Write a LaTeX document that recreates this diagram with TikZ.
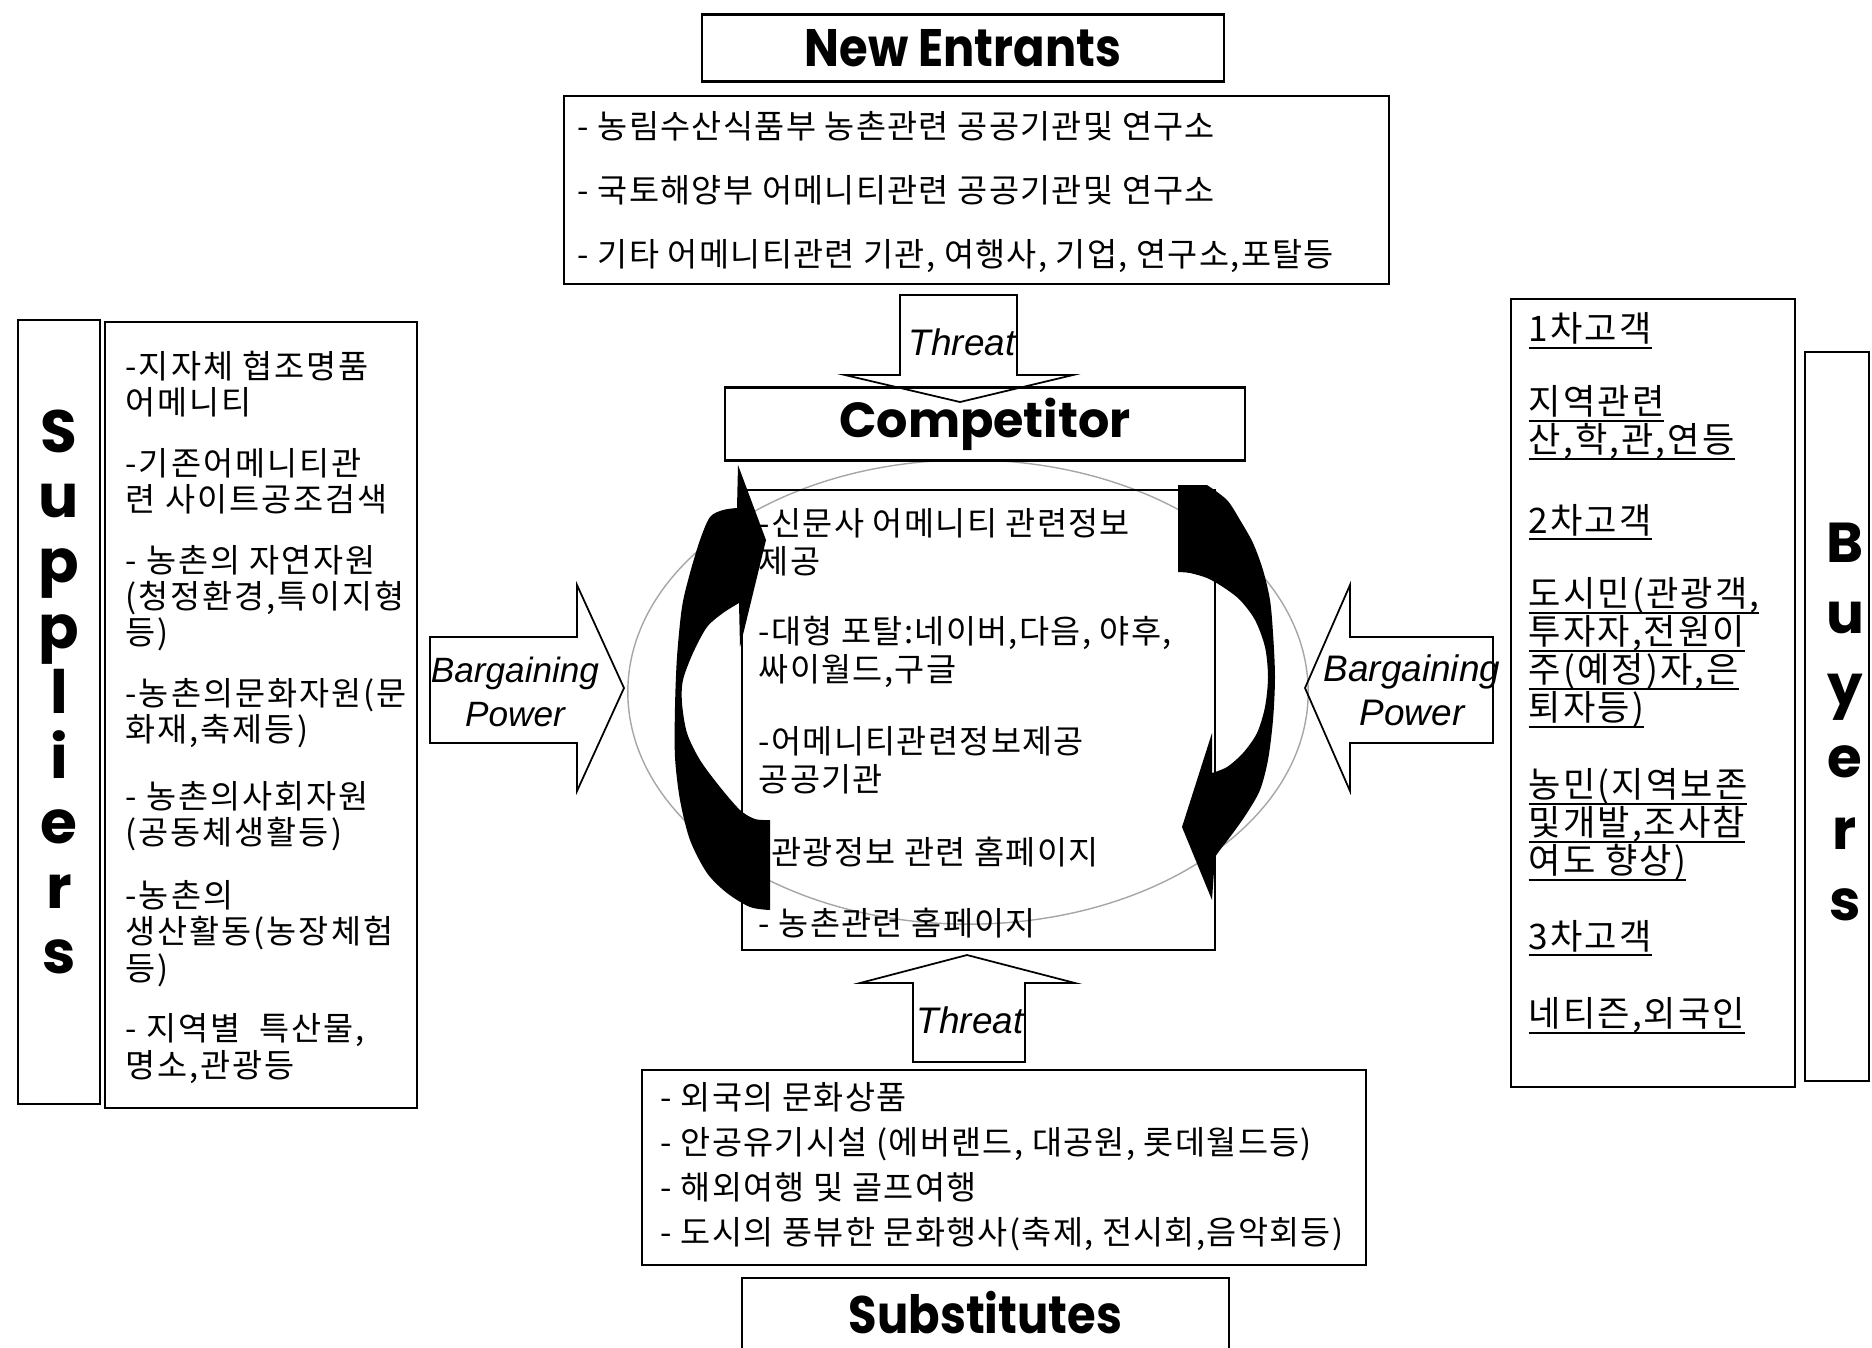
\documentclass[tikz,border=0pt]{standalone}
\usepackage{fontspec}
\usepackage{graphicx}
\newfontfamily\kor{Noto Sans CJK KR}[LetterSpace=4]
\newfontfamily\korwide{Noto Sans CJK KR}[LetterSpace=6]
\newfontfamily\gothic{Poppins}
\newfontfamily\arial{Liberation Sans}
\usepackage{tikz}
% underline set close under the letters
\newcommand\buyline[1]{\setbox0=\hbox{#1}\rlap{\rule[-2pt]{\wd0}{0.5pt}}\box0}
\tikzset{
	box/.style={draw, line width=0.6pt, inner sep=0pt},
	titlebox/.style={box, font=\gothic\bfseries\fontsize{15}{18}\selectfont},
	kor/.style={font=\kor\fontsize{9.3}{10.3}\selectfont, align=left, inner sep=0pt, anchor=north west},
	force/.style={font=\arial\itshape\fontsize{10.5}{12.5}\selectfont, align=center, inner sep=0pt},
	blockarrow/.style={draw, line width=0.5pt},
	letters/.style={font=\gothic\bfseries\fontsize{17}{18.5}\selectfont, align=center, inner sep=0pt},
}

\begin{document}
\begin{tikzpicture}[x=0.01cm, y=-0.01cm]
	\useasboundingbox (0,0) rectangle (1872,1347);
	
	% the circle round the competitors
	\draw[gray!70, line width=0.4pt] (968,692) ellipse [x radius=3.4cm, y radius=2.32cm];
	
	% New Entrants
	\node[titlebox, minimum width=5.22cm, minimum height=0.67cm] (newent) at (963,48) {\scalebox{0.88}[1]{New Entrants}};
	\node[box, minimum width=8.25cm, minimum height=1.88cm] (entbox) at (976.5,190) {};
	\node[kor, font=\kor\fontsize{9.3}{18.2}\selectfont] (entlist) at (577,111) {- 농림수산식품부 농촌관련 공공기관및 연구소\\- 국토해양부 어메니티관련 공공기관및 연구소\\- 기타 어메니티관련 기관, 여행사, 기업, 연구소,포탈등};
	
	% Competitor
	\node[titlebox, font=\gothic\bfseries\fontsize{14}{17}\selectfont, minimum width=5.2cm, minimum height=0.73cm] (comp) at (985,424) {Competitor};
	\node[box, minimum width=4.73cm, minimum height=4.6cm] (compbox) at (978.5,720) {};
	\node[kor, font=\kor\fontsize{9.3}{10.8}\selectfont] (complist) at (758,508) {-신문사 어메니티 관련정보\\제공\\[9.1pt]-대형 포탈:네이버,다음, 야후,\\싸이월드,구글\\[9.7pt]-어메니티관련정보제공\\공공기관\\[9.8pt]-관광정보 관련 홈페이지\\[9.4pt]- 농촌관련 홈페이지};
	
	% Suppliers
	\node[box, minimum width=0.82cm, minimum height=7.84cm] (supbox) at (59,712) {};
	\node[letters] (suptitle) at (59,692) {S\\u\\p\\p\\l\\i\\e\\r\\s};
	\node[box, minimum width=3.12cm, minimum height=7.86cm] (suplistbox) at (261,715) {};
	\node[kor, font=\korwide\fontsize{9.3}{10.3}\selectfont] (suplist) at (125,350) {-지자체 협조명품\\어메니티\\[7pt]-기존어메니티관\\련 사이트공조검색\\[7pt]- 농촌의 자연자원\\(청정환경,특이지형\\등)\\[7pt]-농촌의문화자원(문\\화재,축제등)\\[8.7pt]- 농촌의사회자원\\(공동체생활등)\\[7.6pt]-농촌의\\생산활동(농장체험\\등)\\[7pt]- 지역별 \ 특산물,\\명소,관광등};
	
	% Buyers
	\node[box, minimum width=2.84cm, minimum height=7.88cm] (buylistbox) at (1653,693) {};
	\node[kor, font={\korwide\fontsize{10}{10.8}\selectfont\lineskiplimit=-10pt}] (buylist) at (1528,312) {\buyline{1차고객}\\[10pt]\buyline{지역관련}\\\buyline{산,학,관,연등}\\[12pt]\buyline{2차고객}\\[10.2pt]\buyline{도시민(관광객,}\\\buyline{투자자,전원이}\\\buyline{주(예정)자,은}\\\buyline{퇴자등)}\\[11pt]\buyline{농민(지역보존}\\\buyline{및개발,조사참}\\\buyline{여도 향상)}\\[10.7pt]\buyline{3차고객}\\[11.2pt]\buyline{네티즌,외국인}};
	\node[box, minimum width=0.64cm, minimum height=7.29cm] (buybox) at (1837,716.5) {};
	\node[letters, font=\gothic\bfseries\fontsize{16}{20.4}\selectfont] (buytitle) at (1845,722) {B\\u\\y\\e\\r\\s};
	
	% Substitutes
	\node[box, minimum width=7.24cm, minimum height=1.95cm] (subbox) at (1004,1167.5) {};
	\node[kor, font=\kor\fontsize{9.3}{12.8}\selectfont] (sublist) at (660,1082) {- 외국의 문화상품\\- 안공유기시설 (에버랜드, 대공원, 롯데월드등)\\- 해외여행 및 골프여행\\- 도시의 풍뷰한 문화행사(축제, 전시회,음악회등)};
	\node[titlebox, minimum width=4.87cm, minimum height=0.8cm] (subst) at (985.5,1318) {};
	\node[font=\gothic\bfseries\fontsize{15}{18}\selectfont, inner sep=0pt] (substname) at (985.5,1313) {\scalebox{0.88}[1]{Substitutes}};
	
	% Threat arrows
	\draw[blockarrow] (900,295) -- (1017,295) -- (1017,375) -- (1073,375) -- (960,402) -- (845,375) -- (900,375) -- cycle;
	\node[force] (threattop) at (962,342) {Threat};
	\draw[blockarrow] (913,1062) -- (1025,1062) -- (1025,983) -- (1075,983) -- (967,955) -- (860,983) -- (913,983) -- cycle;
	\node[force] (threatbot) at (970,1020) {Threat};
	
	% Bargaining power arrows
	\draw[blockarrow] (430,637) -- (577,637) -- (577,585) -- (624,688) -- (577,791) -- (577,743) -- (430,743) -- cycle;
	\node[force, font=\arial\itshape\fontsize{10}{12.5}\selectfont] (bpleft) at (515,692) {Bargaining\\Power};
	\draw[blockarrow] (1493,637) -- (1350,637) -- (1350,585) -- (1305,688) -- (1350,791) -- (1350,743) -- (1493,743) -- cycle;
	\node[force] (bpright) at (1412,690) {Bargaining\\Power};
	
	% black circular arrows
	\fill[black] (738,465) -- (766,540) -- (740,647) -- (739,603)
		-- plot[smooth] coordinates {(739,603) (723,613) (707,627) (693,653) (683,680) (682,703) (687,733) (700,760) (720,787) (740,810) (755,819) (770,820)}
		-- (770,910)
		-- plot[smooth] coordinates {(770,910) (750,907) (727,893) (707,873) (690,840) (680,800) (675,757) (675,707) (677,657) (682,607) (690,573) (700,540) (710,517) (723,510) (737,508)}
		-- cycle;
	\fill[black] (1178,485) -- (1207,485)
		-- plot[smooth] coordinates {(1207,485) (1227,500) (1240,520) (1253,543) (1263,570) (1270,600) (1273,633) (1275,677) (1273,720) (1268,760) (1260,790) (1247,813) (1233,833) (1220,850) (1215,857)}
		-- (1212,900) -- (1182,827) -- (1212,733) -- (1212,773)
		-- plot[smooth] coordinates {(1212,773) (1227,767) (1243,753) (1257,733) (1265,707) (1268,677) (1265,647) (1255,620) (1240,600) (1223,587) (1207,578) (1190,573) (1178,572)}
		-- cycle;
	
\end{tikzpicture}
\end{document}
